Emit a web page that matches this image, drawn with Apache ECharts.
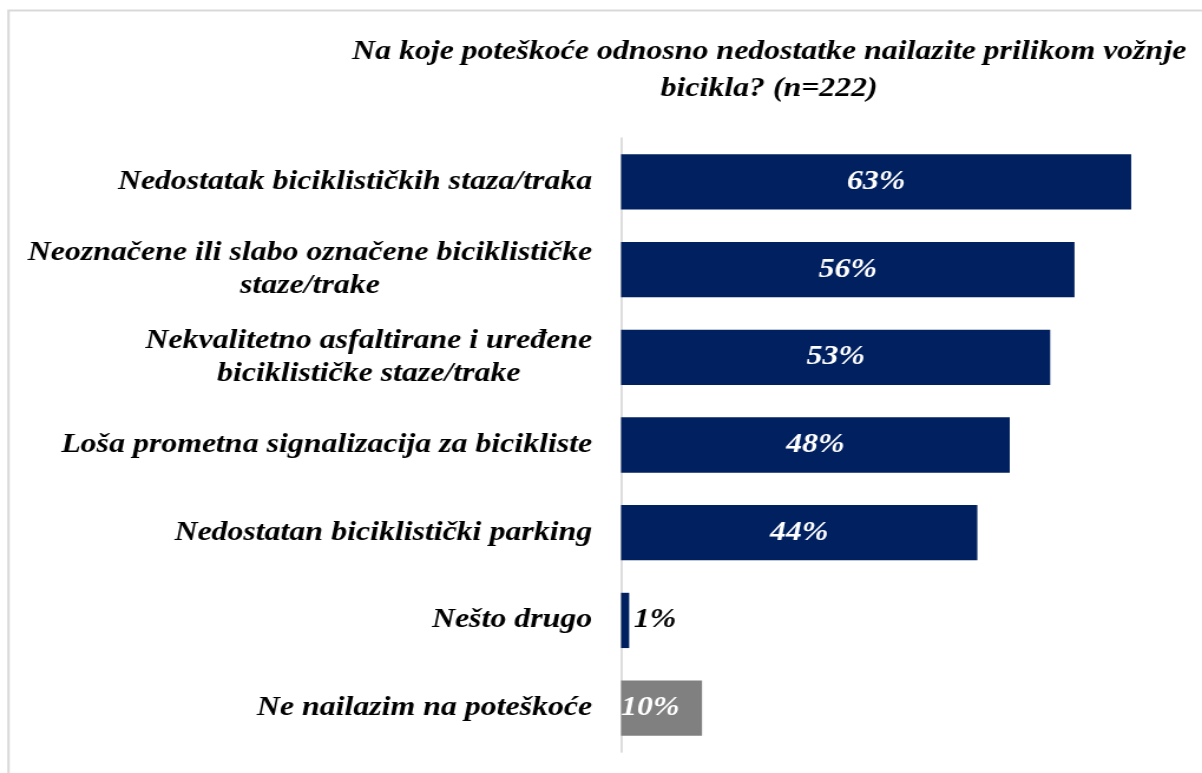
<!DOCTYPE html>
<html>
<head>
<meta charset="utf-8">
<script src="https://cdn.jsdelivr.net/npm/echarts@6/dist/echarts.min.js"></script>
<style>
html,body{margin:0;padding:0;background:#fff;overflow:hidden;}
#wrap{width:1202px;height:773px;overflow:hidden;}
#c{width:1019px;height:773px;transform:scaleX(1.17959);transform-origin:0 0;}
</style>
</head>
<body>
<div id="wrap"><div id="c"></div></div>
<script>
const titleText = 'Na koje poteškoće odnosno nedostatke nailazite prilikom vožnje\nbicikla? (n=222)';
const categories = [
  'Nedostatak biciklističkih staza/traka',
  'Neoznačene ili slabo označene biciklističke\nstaze/trake',
  'Nekvalitetno asfaltirane i uređene\nbiciklističke staze/trake',
  'Loša prometna signalizacija za bicikliste',
  'Nedostatan biciklistički parking',
  'Nešto drugo',
  'Ne nailazim na poteškoće'
];
const values = [63, 56, 53, 48, 44, 1, 10];

const FONT = '"Liberation Serif","Times New Roman",serif';
const NAVY = '#002060';
const GREY = '#808080';

const data = values.map((v, i) => {
  const item = { value: v };
  if (i === 6) {
    item.itemStyle = { color: GREY };
    item.label = { position: 'insideLeft', distance: 0, color: '#fff' };
  } else if (i === 5) {
    item.label = { position: 'right', distance: 4, color: '#000' };
  }
  return item;
});

const chart = echarts.init(document.getElementById('c'), null, { renderer: 'canvas' });
chart.setOption({
  backgroundColor: '#fff',
  animation: false,
  title: {
    text: titleText,
    left: 647, top: 29,
    textAlign: 'center',
    textStyle: { fontFamily: FONT, fontSize: 27, fontWeight: 'bold', fontStyle: 'italic', color: '#000', lineHeight: 37 }
  },
  graphic: [{
    type: 'rect', shape: { x: 7.2, y: 10.5, width: 1300, height: 900 },
    style: { fill: 'none', stroke: '#d9d9d9', lineWidth: 2 }, silent: true
  }],
  grid: { left: 526.5, right: 12, top: 138, bottom: 21, containLabel: false },
  xAxis: {
    type: 'value', min: 0, max: 70, show: false
  },
  yAxis: {
    type: 'category', inverse: true, data: categories,
    axisLine: { show: true, lineStyle: { color: '#d9d9d9', width: 1.7 } },
    axisTick: { show: false },
    axisLabel: {
      margin: 24.6,
      formatter: function (v) {
        return v.split('\n').map(l => '{c|' + l + '}').join('\n');
      },
      rich: {
        c: { align: 'center', fontFamily: FONT, fontSize: 27, fontWeight: 'bold', fontStyle: 'italic', color: '#000', lineHeight: 33 }
      }
    }
  },
  series: [{
    type: 'bar', data: data, barCategoryGap: '37%',
    itemStyle: { color: NAVY },
    label: {
      show: true, position: 'inside', formatter: '{c}%',
      fontFamily: FONT, fontSize: 27, fontWeight: 'bold', fontStyle: 'italic', color: '#fff'
    }
  }]
});
</script>
</body>
</html>
